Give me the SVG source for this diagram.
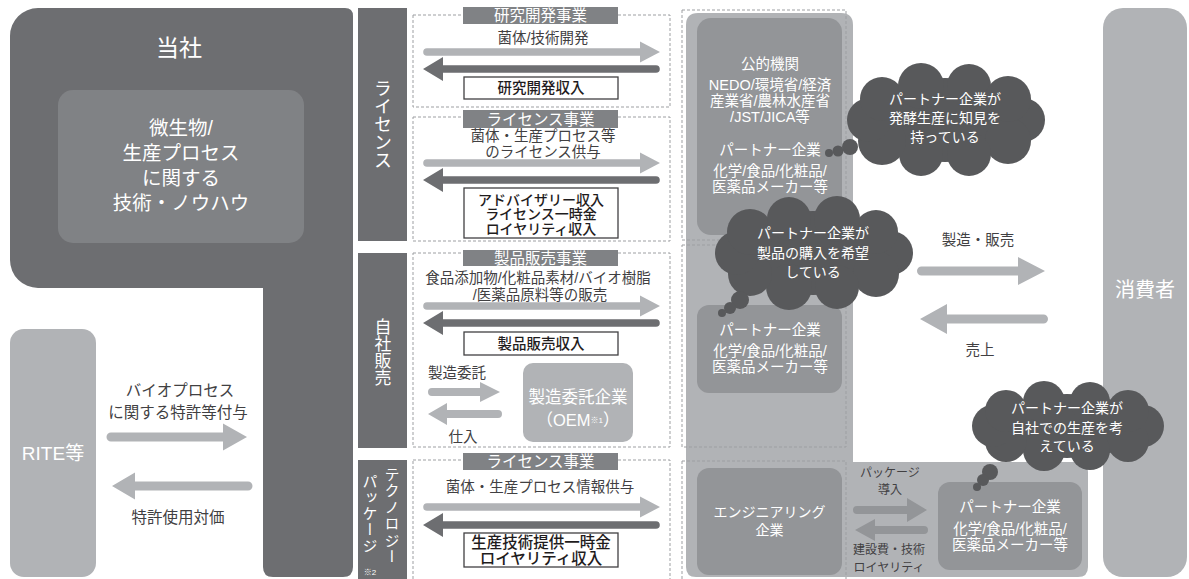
<svg xmlns="http://www.w3.org/2000/svg" width="1189" height="579" viewBox="0 0 1189 579">
<style>
.t{font-family:"Liberation Sans","Noto Sans CJK JP","Noto Sans CJK SC",sans-serif;text-anchor:middle;dominant-baseline:central}
.v{font-family:"Noto Sans CJK JP","Noto Sans CJK SC",sans-serif;text-anchor:middle;writing-mode:tb;fill:#fff}
.w{fill:#fff}
.d{fill:#414042}
.b{font-weight:500;fill:#1f1c1d}
.dash{fill:none;stroke:#9d9fa2;stroke-width:1;stroke-dasharray:3 2}
.box{fill:#fff;stroke:#414042;stroke-width:1.3}
.hdr{fill:#808285}
.light{fill:#b1b3b6}
.dark{fill:#6d6e71}
.mid{fill:#939598}
.cloud{fill:#58595b}
</style>

<g id="company">
<path class="dark" d="M38 8 H345 Q353 8 353 16 V567 Q353 577 343 577 H273 Q263 577 263 567 V288 H38 A28 28 0 0 1 10 260 V36 A28 28 0 0 1 38 8 Z"/>
<rect x="58" y="90" width="246" height="153" rx="15" fill="#808285"/>
<text class="t w" x="179" y="48" font-size="23">当社</text>
<text class="t w" x="181" y="128" font-size="19.5">微生物/</text>
<text class="t w" x="181" y="153" font-size="19.5">生産プロセス</text>
<text class="t w" x="181" y="178" font-size="19.5">に関する</text>
<text class="t w" x="181" y="203" font-size="19.5">技術・ノウハウ</text>
</g>

<g id="rite">
<rect class="light" x="10" y="329" width="86" height="248" rx="14"/>
<text class="t w" x="53" y="453" font-size="19">RITE等</text>
</g>

<g id="label-license">
<rect class="dark" x="358" y="8" width="49" height="233"/>
<text class="v" x="383" y="124" font-size="18">ライセンス</text>
</g>
<g id="label-self">
<rect class="dark" x="358" y="253" width="49" height="195"/>
<text class="v" x="383" y="352" font-size="17">自社販売</text>
</g>
<g id="label-tech">
<rect class="dark" x="358" y="460" width="49" height="125"/>
<text class="v" x="392" y="516" font-size="15" letter-spacing="1.4">テクノロジー</text>
<text class="v" x="370" y="514" font-size="15" letter-spacing="1.2">パッケージ</text>
<text class="t w" x="370" y="572" font-size="8">※2</text>
</g>

<g id="sections">
<rect class="dash" x="413" y="15" width="257" height="92"/>
<rect class="dash" x="413" y="117" width="257" height="124"/>
<rect class="dash" x="413" y="253" width="257" height="194"/>
<rect class="dash" x="413" y="460" width="257" height="130"/>
<rect class="hdr" x="463" y="7" width="155" height="17"/>
<text class="t w" x="540.5" y="15.5" font-size="15.5">研究開発事業</text>
<rect class="hdr" x="463" y="110" width="155" height="18"/>
<text class="t w" x="540.5" y="119" font-size="15.5">ライセンス事業</text>
<rect class="hdr" x="463" y="250" width="155" height="16"/>
<text class="t w" x="540.5" y="258" font-size="15.5">製品販売事業</text>
<rect class="hdr" x="463" y="453" width="155" height="17"/>
<text class="t w" x="540.5" y="461.5" font-size="15.5">ライセンス事業</text>

<text class="t d" x="543" y="38" font-size="14.5">菌体/技術開発</text>
<rect class="box" x="464" y="77" width="154" height="22"/>
<text class="t b" x="541" y="88" font-size="14.5">研究開発収入</text>

<text class="t d" x="543" y="136" font-size="14.5">菌体・生産プロセス等</text>
<text class="t d" x="543" y="152" font-size="14.5">のライセンス供与</text>
<rect class="box" x="464" y="188" width="154" height="50"/>
<text class="t b" x="541" y="199.5" font-size="14">アドバイザリー収入</text>
<text class="t b" x="541" y="214" font-size="14">ライセンス一時金</text>
<text class="t b" x="541" y="228.5" font-size="14">ロイヤリティ収入</text>

<text class="t d" x="538" y="278" font-size="14.5">食品添加物/化粧品素材/バイオ樹脂</text>
<text class="t d" x="540" y="295" font-size="14.5">/医薬品原料等の販売</text>
<rect class="box" x="464" y="332" width="154" height="23"/>
<text class="t b" x="541" y="344" font-size="14.5">製品販売収入</text>
<text class="t d" x="457" y="373" font-size="14.5">製造委託</text>
<text class="t d" x="463" y="437" font-size="14.5">仕入</text>

<text class="t d" x="540" y="487" font-size="14.5">菌体・生産プロセス情報供与</text>
<rect class="box" x="464" y="533" width="154" height="34"/>
<text class="t b" x="541" y="542.5" font-size="15.5">生産技術提供一時金</text>
<text class="t b" x="541" y="558" font-size="15.5">ロイヤリティ収入</text>
</g>

<g id="oem">
<rect class="light" x="523" y="363" width="110" height="79" rx="10"/>
<text class="t w" x="578" y="397" font-size="16.5">製造委託企業</text>
<text class="t w" x="578" y="420" font-size="16.5">（OEM<tspan font-size="8">※1</tspan>）</text>
</g>

<g id="partner-panel">
<path class="light" d="M698 13 H841 Q853 13 853 25 V462 H1078 Q1088 462 1088 472 V567 Q1088 577 1078 577 H696 Q686 577 686 567 V25 Q686 13 698 13 Z"/>
<rect class="dash" x="682" y="10" width="164" height="230"/>
<rect class="dash" x="682" y="245" width="164" height="202"/>
<rect class="dash" x="682" y="461" width="164" height="130"/>
</g>

<g id="public-partner">
<rect class="mid" x="697" y="18" width="145" height="217" rx="14"/>
<text class="t w" x="770" y="64" font-size="14.5">公的機関</text>
<text class="t w" x="770" y="84.5" font-size="14.5">NEDO/環境省/経済</text>
<text class="t w" x="770" y="100.5" font-size="14.5">産業省/農林水産省</text>
<text class="t w" x="770" y="116.5" font-size="14.5">/JST/JICA等</text>
<text class="t w" x="770" y="150" font-size="14.5">パートナー企業</text>
<text class="t w" x="770" y="171" font-size="14.5">化学/食品/化粧品/</text>
<text class="t w" x="770" y="187" font-size="14.5">医薬品メーカー等</text>
</g>

<g id="partner-sales">
<rect class="mid" x="697" y="305" width="145" height="88" rx="12"/>
<text class="t w" x="770" y="330" font-size="14.5">パートナー企業</text>
<text class="t w" x="770" y="351" font-size="14.5">化学/食品/化粧品/</text>
<text class="t w" x="770" y="367" font-size="14.5">医薬品メーカー等</text>
</g>

<g id="engineering">
<rect class="mid" x="697" y="468" width="145" height="107" rx="12"/>
<text class="t w" x="769.5" y="512" font-size="14">エンジニアリング</text>
<text class="t w" x="769.5" y="530" font-size="14">企業</text>
</g>

<g id="partner-own">
<rect class="mid" x="938" y="482" width="144" height="88" rx="12"/>
<text class="t w" x="1010" y="507" font-size="14.5">パートナー企業</text>
<text class="t w" x="1010" y="529" font-size="14.5">化学/食品/化粧品/</text>
<text class="t w" x="1010" y="545" font-size="14.5">医薬品メーカー等</text>
</g>

<g id="consumer">
<rect class="light" x="1103" y="8" width="84" height="569" rx="20"/>
<text class="t w" x="1145" y="290" font-size="20">消費者</text>
</g>

<g id="connectors">
<path class="light" d="M111 432.5 H223 V423.5 L247 437 L223 450.5 V441.5 H111 A4.5 4.5 0 0 1 111 432.5 Z"/>
<path class="light" d="M112 486 L135 472.5 V481.5 H248 A4.5 4.5 0 0 1 248 490.5 H135 V499.5 Z"/>
<text class="t d" x="180" y="390" font-size="15.5">バイオプロセス</text>
<text class="t d" x="178" y="412" font-size="15.5">に関する特許等付与</text>
<text class="t d" x="178" y="517" font-size="15.5">特許使用対価</text>

<path class="light" d="M427 48.2 H640 V41.5 L660 52 L640 62.5 V55.8 H427 A3.8 3.8 0 0 1 427 48.2 Z"/>
<path class="dark" d="M423 69 L443 57 V65.2 H656 A3.8 3.8 0 0 1 656 72.8 H443 V81 Z"/>
<path class="light" d="M427 159.2 H640 V152.5 L660 163 L640 173.5 V166.8 H427 A3.8 3.8 0 0 1 427 159.2 Z"/>
<path class="dark" d="M423 180 L443 168 V176.2 H656 A3.8 3.8 0 0 1 656 183.8 H443 V192 Z"/>
<path class="light" d="M427 302.2 H640 V295.5 L660 306 L640 316.5 V309.8 H427 A3.8 3.8 0 0 1 427 302.2 Z"/>
<path class="dark" d="M423 323 L443 311 V319.2 H656 A3.8 3.8 0 0 1 656 326.8 H443 V335 Z"/>
<path class="light" d="M427 503.2 H640 V496.5 L660 507 L640 517.5 V510.8 H427 A3.8 3.8 0 0 1 427 503.2 Z"/>
<path class="dark" d="M423 525 L443 513 V521.2 H656 A3.8 3.8 0 0 1 656 528.8 H443 V537 Z"/>

<path class="light" d="M432 388 H480 V382 L500 392 L480 402 V396 H432 A4 4 0 0 1 432 388 Z"/>
<path class="light" d="M428 414 L447 403 V410 H498 A4 4 0 0 1 498 418 H447 V425 Z"/>

<path class="light" d="M921.5 266.5 H1018 V257 L1045 271 L1018 285 V275.5 H921.5 A4.5 4.5 0 0 1 921.5 266.5 Z"/>
<path class="light" d="M920 319 L947 304 V314.5 H1043.5 A4.5 4.5 0 0 1 1043.5 323.5 H947 V334 Z"/>
<text class="t d" x="978" y="240" font-size="14.5">製造・販売</text>
<text class="t d" x="980" y="350" font-size="14.5">売上</text>

<path class="mid" d="M857 506 H907 V498 L927 510 L907 522 V514 H857 A4 4 0 0 1 857 506 Z"/>
<path class="mid" d="M855 530 L875 519 V526 H924 A4 4 0 0 1 924 534 H875 V541 Z"/>
<text class="t d" x="890" y="473" font-size="12">パッケージ</text>
<text class="t d" x="890" y="490" font-size="12">導入</text>
<text class="t d" x="889" y="550" font-size="12">建設費・技術</text>
<text class="t d" x="889" y="568" font-size="12">ロイヤリティ</text>
</g>

<g id="cloud-knowledge">
<ellipse class="cloud" cx="945" cy="120" rx="80" ry="42"/>
<circle class="cloud" cx="1023" cy="120" r="22"/>
<circle class="cloud" cx="1008" cy="141" r="23"/>
<circle class="cloud" cx="969" cy="154" r="22"/>
<circle class="cloud" cx="921" cy="154" r="22"/>
<circle class="cloud" cx="882" cy="141" r="24"/>
<circle class="cloud" cx="869" cy="120" r="22"/>
<circle class="cloud" cx="882" cy="99" r="22"/>
<circle class="cloud" cx="921" cy="86" r="23"/>
<circle class="cloud" cx="969" cy="86" r="22"/>
<circle class="cloud" cx="1008" cy="99" r="23"/>
<circle class="cloud" cx="850" cy="147" r="8"/>
<circle class="cloud" cx="838" cy="151" r="5.5"/>
<circle class="cloud" cx="829" cy="153" r="4"/>
<text class="t w" x="945" y="99" font-size="14">パートナー企業が</text>
<text class="t w" x="945" y="118" font-size="14">発酵生産に知見を</text>
<text class="t w" x="945" y="137" font-size="14">持っている</text>
</g>

<g id="cloud-purchase">
<ellipse class="cloud" cx="813" cy="253" rx="80" ry="42"/>
<circle class="cloud" cx="891" cy="253" r="22"/>
<circle class="cloud" cx="876" cy="274" r="23"/>
<circle class="cloud" cx="837" cy="287" r="22"/>
<circle class="cloud" cx="789" cy="287" r="23"/>
<circle class="cloud" cx="750" cy="274" r="22"/>
<circle class="cloud" cx="737" cy="253" r="22"/>
<circle class="cloud" cx="750" cy="232" r="23"/>
<circle class="cloud" cx="789" cy="219" r="22"/>
<circle class="cloud" cx="837" cy="219" r="23"/>
<circle class="cloud" cx="876" cy="232" r="22"/>
<circle class="cloud" cx="740" cy="300" r="9"/>
<circle class="cloud" cx="730" cy="308" r="6"/>
<circle class="cloud" cx="722" cy="313" r="4"/>
<text class="t w" x="813" y="233" font-size="14">パートナー企業が</text>
<text class="t w" x="813" y="253" font-size="14">製品の購入を希望</text>
<text class="t w" x="813" y="272" font-size="14">している</text>
</g>

<g id="cloud-own">
<ellipse class="cloud" cx="1067" cy="426" rx="78" ry="32"/>
<circle class="cloud" cx="1143" cy="426" r="21"/>
<circle class="cloud" cx="1128" cy="441" r="21"/>
<circle class="cloud" cx="1090" cy="450" r="20"/>
<circle class="cloud" cx="1044" cy="450" r="21"/>
<circle class="cloud" cx="1006" cy="441" r="21"/>
<circle class="cloud" cx="993" cy="426" r="21"/>
<circle class="cloud" cx="1006" cy="411" r="21"/>
<circle class="cloud" cx="1044" cy="402" r="21"/>
<circle class="cloud" cx="1090" cy="402" r="20"/>
<circle class="cloud" cx="1128" cy="411" r="21"/>
<circle class="cloud" cx="990" cy="472" r="8"/>
<circle class="cloud" cx="983" cy="480" r="6"/>
<circle class="cloud" cx="977" cy="487" r="4"/>
<text class="t w" x="1067" y="408" font-size="14">パートナー企業が</text>
<text class="t w" x="1067" y="428" font-size="14">自社での生産を考</text>
<text class="t w" x="1067" y="446" font-size="14">えている</text>
</g>
</svg>
